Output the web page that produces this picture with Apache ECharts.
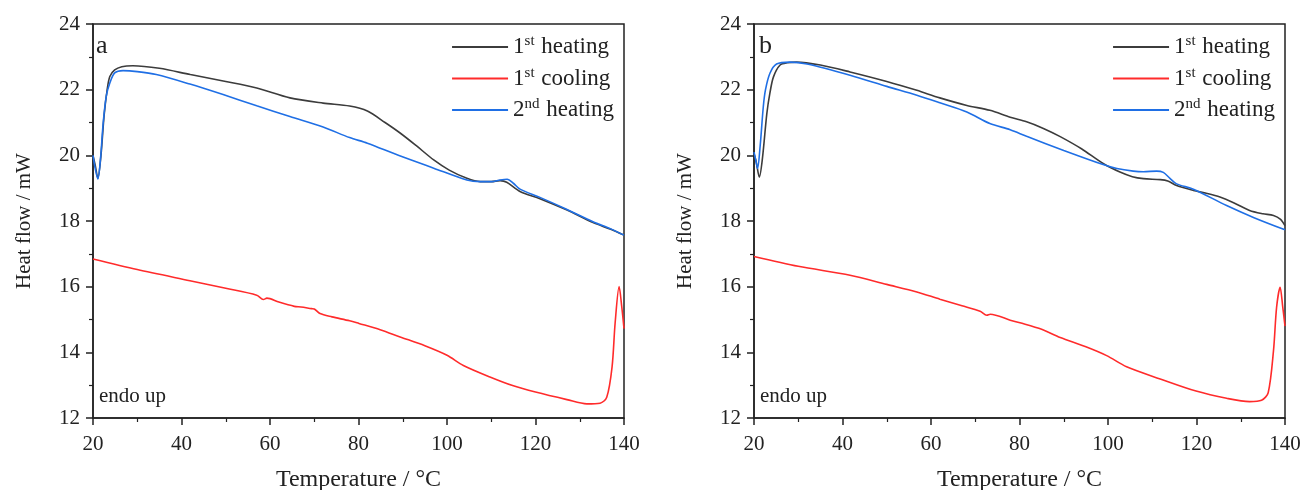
<!DOCTYPE html>
<html><head><meta charset="utf-8">
<script src="https://cdn.jsdelivr.net/npm/echarts@6/dist/echarts.min.js"></script>
<style>html,body{margin:0;padding:0;background:#fff}#c{width:1303px;height:490px}</style>
</head><body><div id="c"></div>
<script>
// Panel a
const aHeat1T = [20,20.5,21.1,21.8,22.5,23.2,23.8,24.9,26.5,29,35,42,50,57,64.5,72,78,82,86,89.4,93,97,100.5,104.5,107.5,110,112,113.5,116.5,121,127,133,137,140];
const aHeat1V = [20.0,19.7,19.3,20.0,21.2,22.0,22.4,22.6,22.7,22.73,22.65,22.46,22.25,22.05,21.75,21.59,21.5,21.35,21.0,20.68,20.3,19.86,19.55,19.30,19.2,19.2,19.23,19.18,18.9,18.68,18.34,17.95,17.75,17.57];
const aCoolT = [20,30,41.9,50,57,58.5,59.3,62,65.5,67,69.4,70,71.3,74,78,80.1,84.9,89.4,95,100,103.7,109.7,115,120,127.1,131.6,134.6,136.1,137.3,138,138.9,139.5,140];
const aCoolV = [16.84,16.52,16.18,15.95,15.74,15.61,15.65,15.53,15.40,15.38,15.33,15.32,15.18,15.08,14.96,14.88,14.69,14.47,14.2,13.91,13.6,13.25,12.98,12.79,12.56,12.43,12.45,12.63,13.55,14.9,16.0,15.38,14.72];
const aHeat2T = [20,20.5,21.1,21.7,22.3,23,23.8,24.9,26.8,30,34.3,41.9,49.4,57,64.5,72,78,82,89,97,104.5,107.5,110,112,113.6,115,116.5,121,127,133,137,140];
const aHeat2V = [20.0,19.6,19.28,19.9,20.98,21.8,22.2,22.51,22.58,22.55,22.46,22.17,21.85,21.51,21.18,20.86,20.54,20.37,20.0,19.61,19.25,19.2,19.2,19.25,19.27,19.15,18.97,18.72,18.36,17.98,17.76,17.57];
// Panel b
const bHeat1T = [20,20.5,21.2,21.9,22.9,23.6,24.4,25.9,27.5,29.6,35,41.7,50,56.8,62,68.1,73.3,77.9,81.6,85.4,89.2,94,98.9,102.7,105.5,108,111.8,113.5,115.5,119.3,122,125.3,128.5,132,135,137.4,139,140];
const bHeat1V = [20.05,19.8,19.34,19.9,21.27,21.9,22.39,22.75,22.82,22.84,22.75,22.54,22.25,21.98,21.75,21.52,21.37,21.16,21.02,20.82,20.57,20.2,19.75,19.49,19.35,19.29,19.26,19.22,19.08,18.93,18.85,18.73,18.55,18.32,18.22,18.17,18.05,17.86];
const bCoolT = [20,30,41.7,50,56.8,62,67,71.1,72.6,73.4,77.9,80.1,85,89.2,95,99.7,104.2,111.8,119.9,126.8,132,134.7,136.2,137.4,138.1,138.9,139.5,140];
const bCoolV = [16.92,16.62,16.35,16.07,15.84,15.62,15.42,15.25,15.13,15.16,14.98,14.9,14.7,14.45,14.17,13.9,13.56,13.19,12.82,12.6,12.5,12.54,12.77,14.05,15.37,15.98,15.37,14.8];
const bHeat2T = [20,20.4,20.8,21.4,22.1,22.6,23.6,25.1,28.1,32,41.7,50,56.8,62,68.1,73.3,77.9,81.6,90,98.9,102,105.7,108,111,112.5,114,115.5,119.3,126.8,133,140];
const bHeat2V = [20.1,19.85,19.6,20.3,21.48,22.0,22.5,22.78,22.84,22.78,22.44,22.1,21.83,21.6,21.32,20.97,20.78,20.58,20.15,19.72,19.6,19.52,19.5,19.52,19.48,19.3,19.13,18.97,18.47,18.1,17.73];

const xTicks = [20,40,60,80,100,120,140];
const yTicks = [12,14,16,18,20,22,24];
const names = ['1st heating','1st cooling','2nd heating'];
const colors = ['#3c3c3c','#ff2b2b','#1f6fe5'];

const zip = (t, v) => t.map((x, i) => [x, v[i]]);
const FONT = 'Liberation Serif';

function xAxisDef(gi) {
  return {
    gridIndex: gi, type: 'value', min: xTicks[0], max: xTicks[xTicks.length-1], interval: 20,
    name: 'Temperature / °C', nameLocation: 'middle', nameGap: 50,
    nameTextStyle: {fontFamily: FONT, fontSize: 24, color: '#222'},
    axisLine: {show: true, lineStyle: {color: '#222', width: 1.5}},
    axisTick: {show: true, length: 7, lineStyle: {color: '#222', width: 1.5}},
    minorTick: {show: true, splitNumber: 2, length: 4, lineStyle: {color: '#222', width: 1.2}},
    axisLabel: {fontFamily: FONT, fontSize: 21, color: '#222', margin: 16},
    splitLine: {show: false}
  };
}
function yAxisDef(gi) {
  return {
    gridIndex: gi, type: 'value', min: yTicks[0], max: yTicks[yTicks.length-1], interval: 2,
    name: 'Heat flow / mW', nameLocation: 'middle', nameGap: 58,
    nameTextStyle: {fontFamily: FONT, fontSize: 21, color: '#222'},
    axisLine: {show: true, lineStyle: {color: '#222', width: 1.5}},
    axisTick: {show: true, length: 7, lineStyle: {color: '#222', width: 1.5}},
    minorTick: {show: true, splitNumber: 2, length: 4, lineStyle: {color: '#222', width: 1.2}},
    axisLabel: {fontFamily: FONT, fontSize: 21, color: '#222', margin: 13},
    splitLine: {show: false}
  };
}
function ser(name, data, color, gi) {
  return {
    type: 'line', name, data, xAxisIndex: gi, yAxisIndex: gi,
    showSymbol: false, smooth: 0.3,
    lineStyle: {color, width: 1.6}, itemStyle: {color}, z: 3
  };
}
function legendDef(right) {
  return {
    orient: 'vertical', right, top: 29, itemGap: 7, itemWidth: 56, itemHeight: 2, icon: 'rect',
    data: names,
    formatter: n => {
      const m = n.match(/^(\d)(st|nd) (.*)$/);
      return '{a|' + m[1] + '}{s|' + m[2] + '}{a| ' + m[3] + '}';
    },
    textStyle: {
      fontFamily: FONT, color: '#222',
      rich: {
        a: {fontFamily: FONT, fontSize: 23, color: '#222', lineHeight: 24},
        s: {fontFamily: FONT, fontSize: 15, color: '#222', padding: [0,1,11,0]}
      }
    }
  };
}

const chart = echarts.init(document.getElementById('c'), null, {renderer: 'canvas'});
const gridBase = {width: 531, height: 394, top: 24, show: true, borderColor: '#222', borderWidth: 1.5,
  backgroundColor: 'transparent', containLabel: false, outerBoundsMode: 'none'};
chart.setOption({
  backgroundColor: '#fff',
  animation: false,
  grid: [
    Object.assign({left: 93}, gridBase),
    Object.assign({left: 754}, gridBase)
  ],
  xAxis: [xAxisDef(0), xAxisDef(1)],
  yAxis: [yAxisDef(0), yAxisDef(1)],
  legend: [legendDef(1303 - 619), legendDef(1303 - 1280)],
  series: [
    ser(names[1], zip(aCoolT, aCoolV), colors[1], 0),
    ser(names[0], zip(aHeat1T, aHeat1V), colors[0], 0),
    ser(names[2], zip(aHeat2T, aHeat2V), colors[2], 0),
    ser(names[1], zip(bCoolT, bCoolV), colors[1], 1),
    ser(names[0], zip(bHeat1T, bHeat1V), colors[0], 1),
    ser(names[2], zip(bHeat2T, bHeat2V), colors[2], 1)
  ],
  graphic: [
    {type: 'text', left: 96, top: 33, style: {text: 'a', fontFamily: FONT, fontSize: 26, fill: '#222'}},
    {type: 'text', left: 759, top: 33, style: {text: 'b', fontFamily: FONT, fontSize: 26, fill: '#222'}},
    {type: 'text', left: 99, top: 386, style: {text: 'endo up', fontFamily: FONT, fontSize: 21, fill: '#222'}},
    {type: 'text', left: 760, top: 386, style: {text: 'endo up', fontFamily: FONT, fontSize: 21, fill: '#222'}}
  ]
});
</script></body></html>
